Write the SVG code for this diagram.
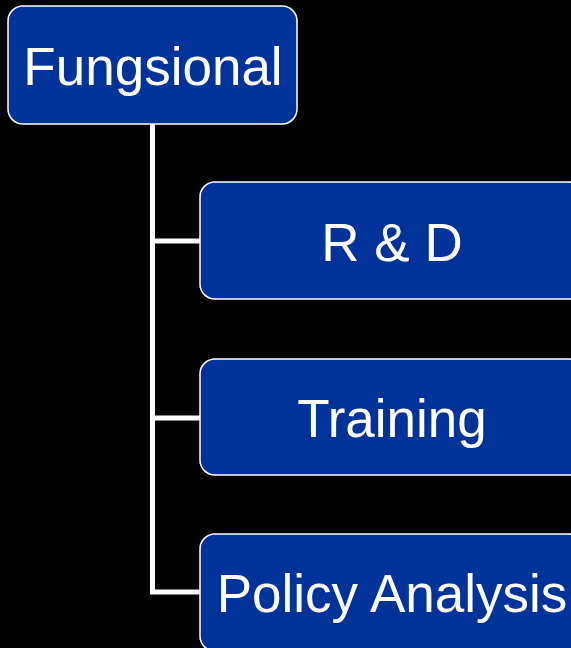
<svg xmlns="http://www.w3.org/2000/svg" width="571" height="648" viewBox="0 0 571 648">
  <style>
    .box { fill: #003399; stroke: #ffffff; stroke-width: 1.5; }
    .label { fill: #ffffff; font-family: "Liberation Sans", Arial, sans-serif; font-size: 53px; text-anchor: middle; }
    .link { fill: none; stroke: #ffffff; stroke-width: 5; }
  </style>
  <rect width="571" height="648" fill="#000000"/>
  <g id="connectors">
    <path class="link" d="M152.5 124 V592 H201"/>
    <path class="link" d="M152.5 241 H201"/>
    <path class="link" d="M152.5 418 H201"/>
  </g>
  <g id="fungsional">
    <rect class="box" x="8" y="6" width="289" height="118" rx="15"/>
    <text class="label" x="153" y="85">Fungsional</text>
  </g>
  <g id="rnd">
    <rect class="box" x="200" y="182" width="384" height="117" rx="15"/>
    <text class="label" x="392" y="261">R &amp; D</text>
  </g>
  <g id="training">
    <rect class="box" x="200" y="359" width="384" height="116" rx="15"/>
    <text class="label" x="392" y="437">Training</text>
  </g>
  <g id="policy-analysis">
    <rect class="box" x="200" y="534" width="384" height="117" rx="15"/>
    <text class="label" x="392" y="612">Policy Analysis</text>
  </g>
</svg>
